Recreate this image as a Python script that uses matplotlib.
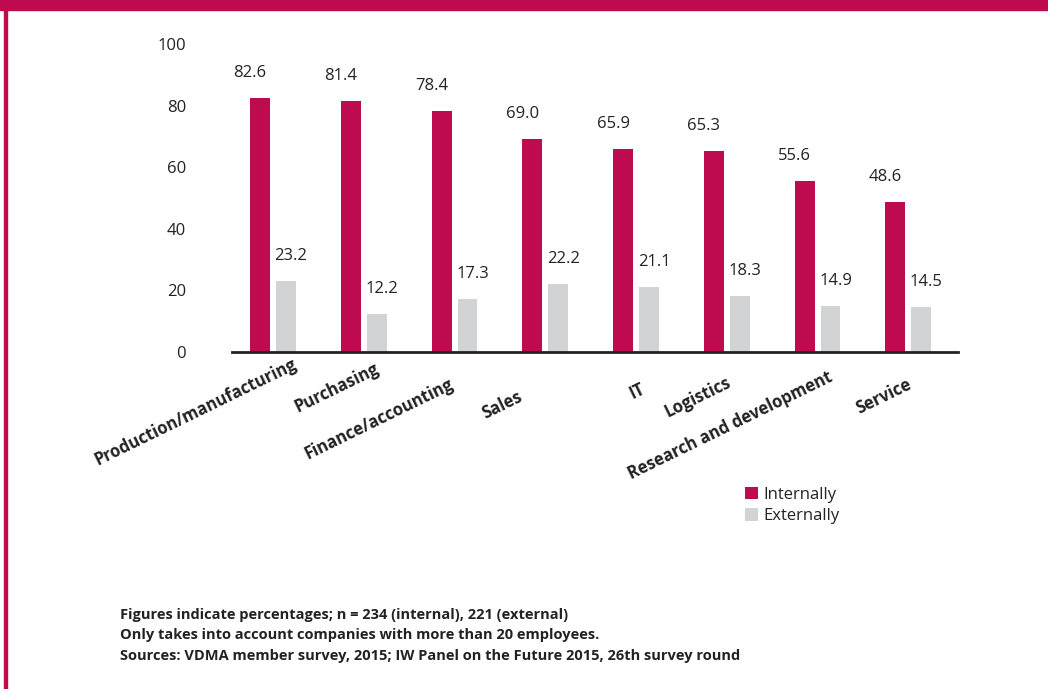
import matplotlib
matplotlib.use("Agg")
import matplotlib.pyplot as plt
from matplotlib.patches import Rectangle
from matplotlib.transforms import offset_copy
import numpy as np

plt.rcParams['font.family'] = ['Open Sans', 'DejaVu Sans']

categories = ["Production/manufacturing", "Purchasing", "Finance/accounting", "Sales",
              "IT", "Logistics", "Research and development", "Service"]
internally = [82.6, 81.4, 78.4, 69.0, 65.9, 65.3, 55.6, 48.6]
externally = [23.2, 12.2, 17.3, 22.2, 21.1, 18.3, 14.9, 14.5]
yticks = [0, 20, 40, 60, 80, 100]
footnotes = ["Figures indicate percentages; n = 234 (internal), 221 (external)",
             "Only takes into account companies with more than 20 employees.",
             "Sources: VDMA member survey, 2015; IW Panel on the Future 2015, 26th survey round"]

MAGENTA = "#BE0B4F"
GREY = "#D2D3D5"
TEXT = "#222222"

# per-label nudges of the rotated category labels (pixels: right, down)
label_nudges = [(25, 16), (16, 20), (0, 36), (-22, 48), (10, 40), (5, 34), (16, 29), (4, 36)]

fig = plt.figure(figsize=(10.48, 6.89), dpi=100)
W, H = 1048, 689

# decorative frame: top band and left line
fig.patches.append(Rectangle((0, 1 - 10 / H), 1, 10 / H, transform=fig.transFigure,
                             color=MAGENTA, zorder=0))
fig.patches.append(Rectangle((4 / W, 0), 3 / W, 1, transform=fig.transFigure,
                             color=MAGENTA, zorder=0))

ax = fig.add_axes([232 / W, 1 - 352 / H, (958 - 232) / W, (352 - 44) / H])

x = np.arange(len(categories))
bw = 0.22
xi = x + 0.31
xe = x + 0.595
b1 = ax.bar(xi, internally, width=bw, color=MAGENTA, label="Internally", zorder=2)
b2 = ax.bar(xe, externally, width=bw, color=GREY, label="Externally", zorder=2)

ax.set_xlim(0, len(categories))
ax.set_ylim(0, 100)
ax.set_yticks(yticks)
ax.set_yticklabels([str(v) for v in yticks])
ax.tick_params(axis='y', length=0, pad=33, labelsize=12, labelcolor=TEXT)
ax.tick_params(axis='x', length=0)
ax.set_xticks([])
for s in ['top', 'right', 'left']:
    ax.spines[s].set_visible(False)
ax.spines['bottom'].set_linewidth(2)
ax.spines['bottom'].set_color('#222222')
ax.spines['bottom'].set_zorder(3)

# value labels
for xv, v in zip(xi, internally):
    t = offset_copy(ax.transData, fig=fig, x=-10, y=25, units='dots')
    ax.text(xv, v, f"{v:.1f}", transform=t, ha='center', va='center',
            fontsize=12, color=TEXT)
for xv, v in zip(xe, externally):
    t = offset_copy(ax.transData, fig=fig, x=5, y=25, units='dots')
    ax.text(xv, v, f"{v:.1f}", transform=t, ha='center', va='center',
            fontsize=12, color=TEXT)

# category labels
gc = (xi + xe) / 2
for xv, lab, (dx, dy) in zip(gc, categories, label_nudges):
    t = offset_copy(ax.get_xaxis_transform(), fig=fig, x=dx, y=-dy, units='dots')
    ax.text(xv, 0, lab, transform=t, ha='right', va='baseline', rotation=26,
            rotation_mode='anchor', fontsize=12, fontweight='bold', color=TEXT)

leg = fig.legend(handles=[b1, b2], labels=["Internally", "Externally"],
                 loc='upper left', bbox_to_anchor=(733 / W, 1 - 475 / H),
                 frameon=False, fontsize=12, handlelength=0.8, handleheight=0.8,
                 handletextpad=0.3, labelspacing=0.3, borderpad=0.2)
for txt in leg.get_texts():
    txt.set_color(TEXT)

for i, line in enumerate(footnotes):
    fig.text(120 / W, 1 - (615 + 20.5 * i) / H, line, ha='left', va='center',
             fontsize=10.5, fontweight='bold', color=TEXT)

fig.savefig("out.png", dpi=100)
